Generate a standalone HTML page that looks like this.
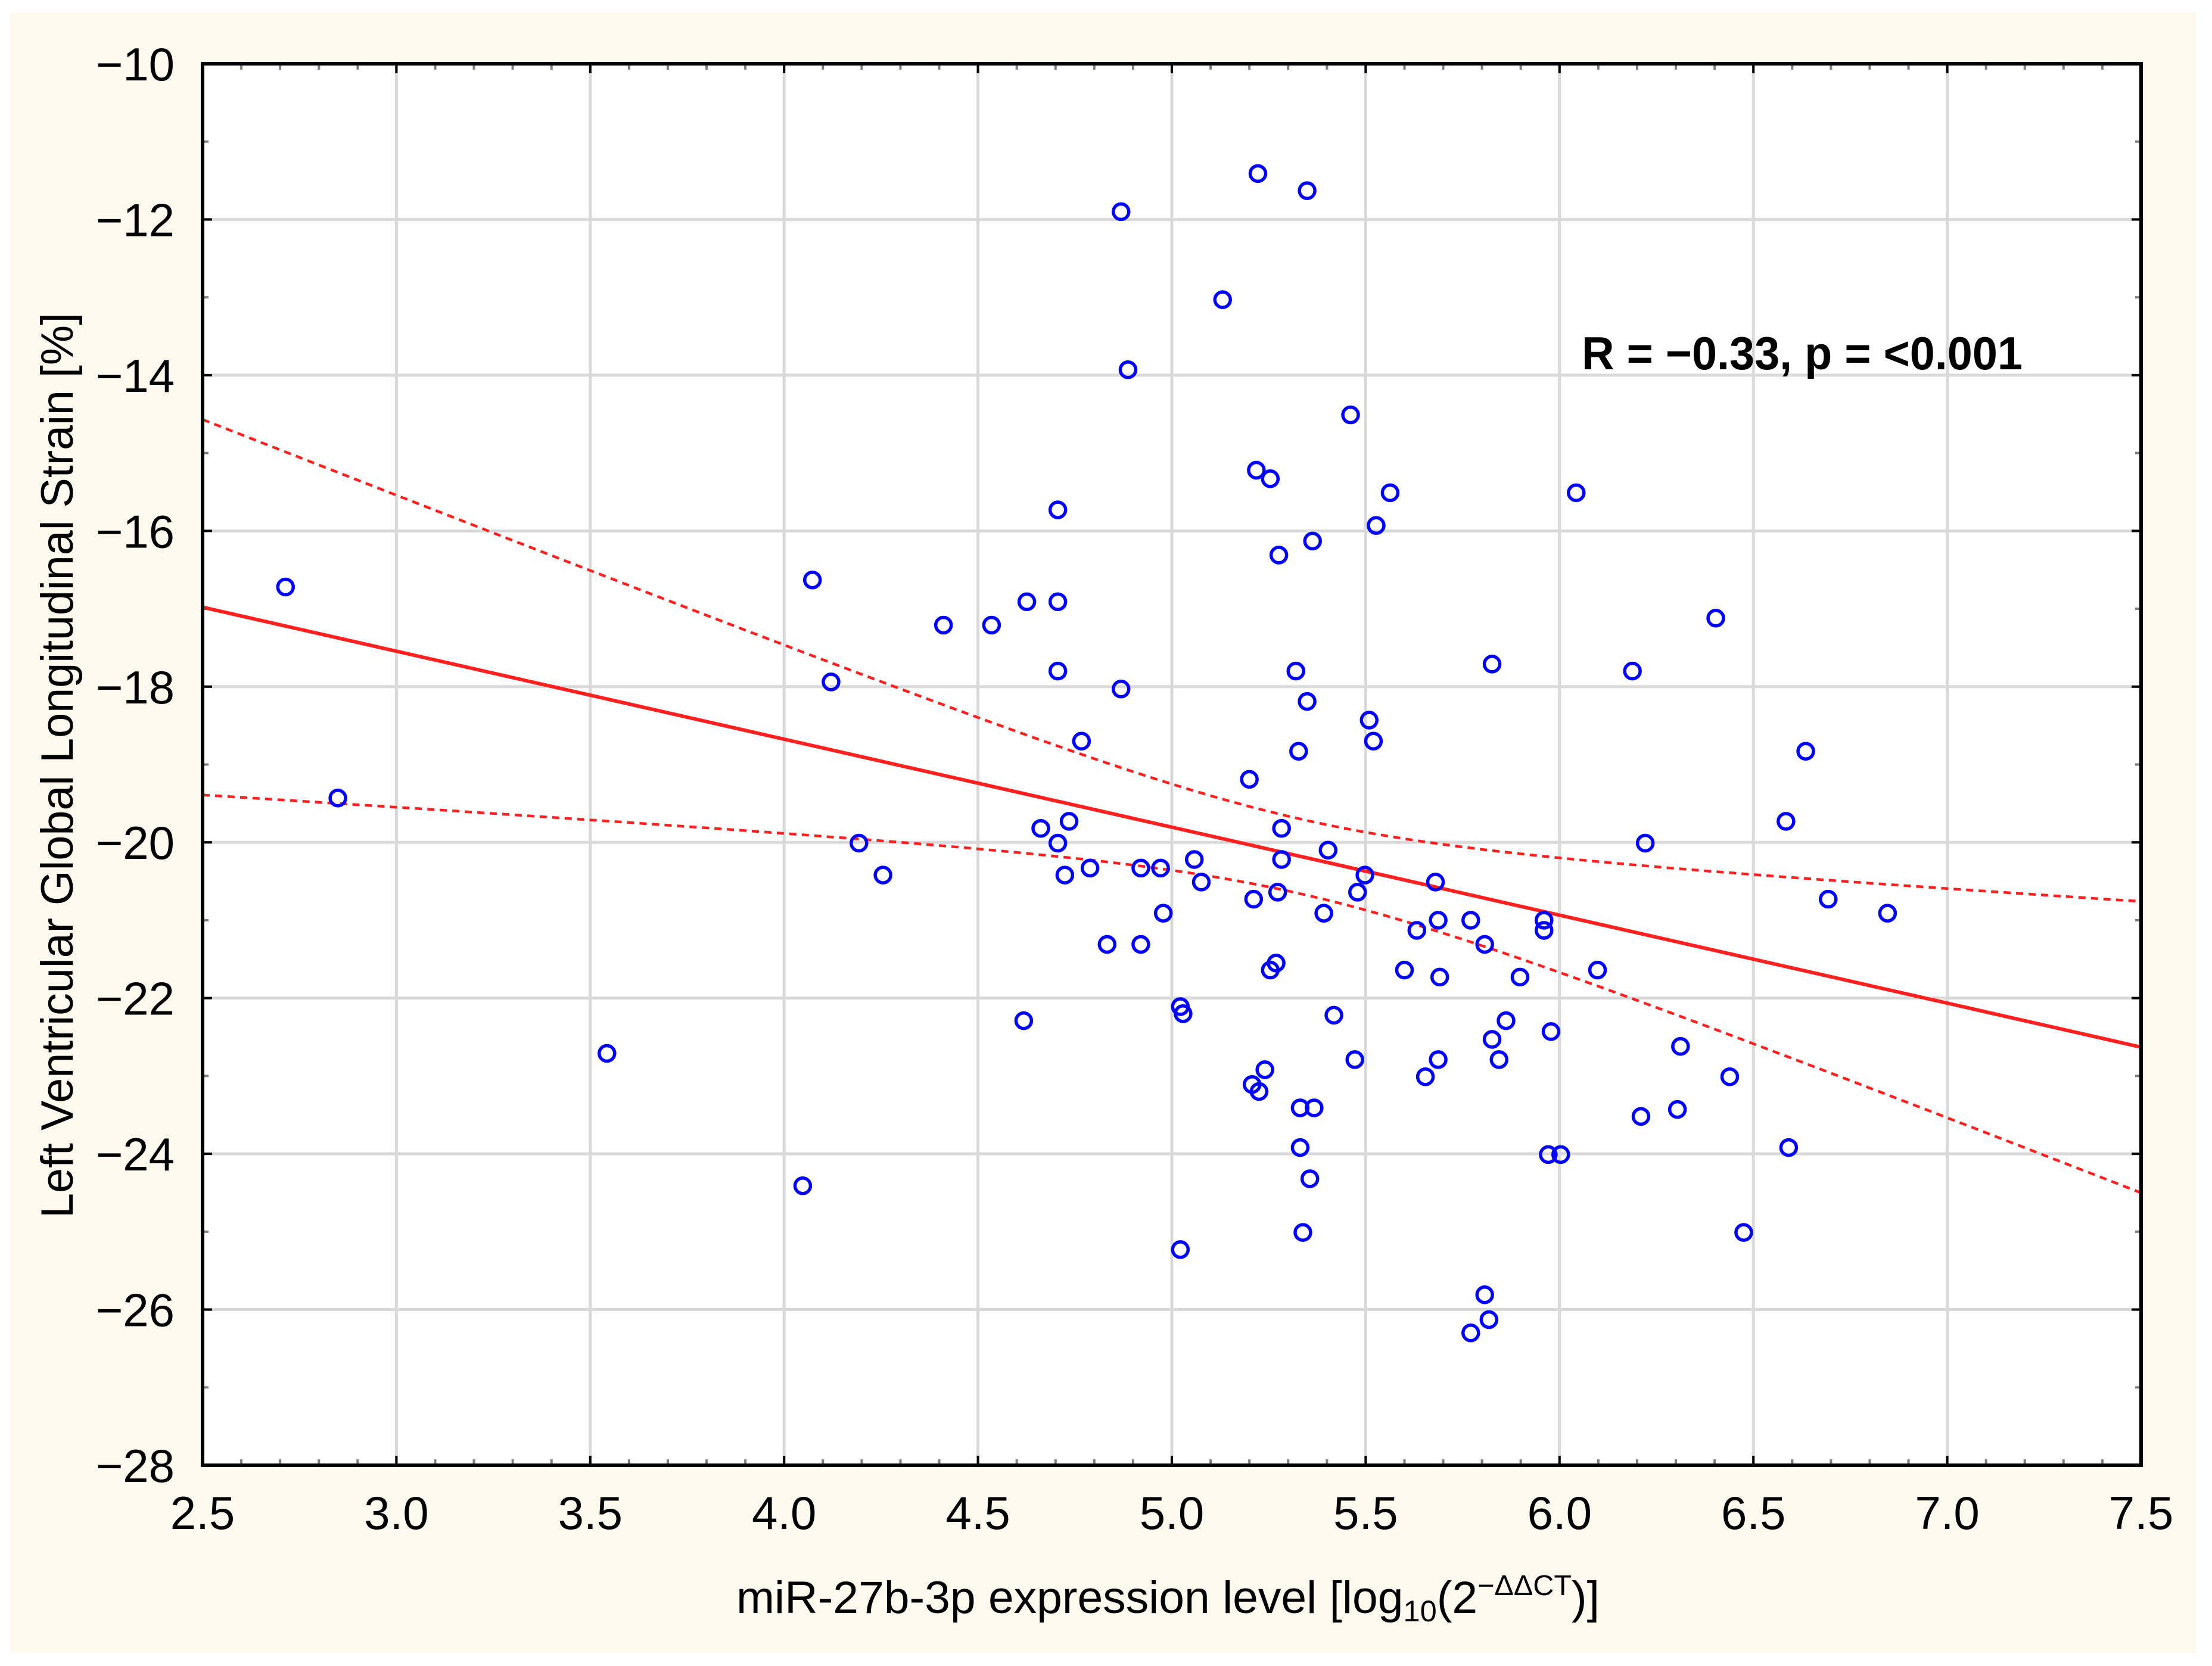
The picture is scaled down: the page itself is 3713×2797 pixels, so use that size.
<!DOCTYPE html>
<html><head><meta charset="utf-8">
<style>
html,body{margin:0;padding:0;background:#fff;}
svg{display:block;}
text{font-family:"Liberation Sans",sans-serif;}
</style></head>
<body>
<svg id="chart" width="3713" height="2797" viewBox="0 0 3713 2797" xmlns="http://www.w3.org/2000/svg">
<rect x="17" y="21" width="3669" height="2754" fill="#fef9ee"/>
<rect x="340" y="107" width="3254" height="2353" fill="#ffffff"/>
<g id="grid"></g>
<g id="ticks"></g>
<g id="lines"></g>
<g id="points"></g>
<rect x="340" y="107" width="3254" height="2353" fill="none" stroke="#000" stroke-width="6"/>
<g id="xlabels"></g>
<g id="ylabels"></g>
<text x="2655" y="620" font-size="78" font-weight="bold" textLength="740" lengthAdjust="spacingAndGlyphs" fill="#000">R = −0.33, p = &lt;0.001</text>
<text x="1236" y="2708" font-size="76" textLength="1449" lengthAdjust="spacingAndGlyphs" fill="#000">miR-27b-3p expression level [log<tspan font-size="50" dy="14">10</tspan><tspan dy="-14">(2</tspan><tspan font-size="48" dy="-30">−ΔΔCT</tspan><tspan dy="30">)]</tspan></text>
<text transform="translate(122,1285) rotate(-90)" text-anchor="middle" font-size="76" textLength="1520" lengthAdjust="spacingAndGlyphs" fill="#000">Left Ventricular Global Longitudinal Strain [%]</text>
</svg>
<script>
const xData = [2.714,2.849,3.543,4.048,4.073,4.121,4.193,4.255,4.411,4.535,4.618,4.626,4.662,4.706,4.706,4.706,4.706,4.724,4.735,4.767,4.789,4.833,4.869,4.869,4.887,4.920,4.920,4.971,4.978,5.022,5.029,5.022,5.058,5.076,5.131,5.200,5.211,5.222,5.218,5.207,5.225,5.240,5.254,5.254,5.269,5.276,5.273,5.283,5.283,5.349,5.320,5.327,5.331,5.367,5.331,5.338,5.349,5.356,5.363,5.392,5.403,5.418,5.461,5.472,5.479,5.498,5.509,5.520,5.527,5.563,5.600,5.632,5.654,5.680,5.687,5.691,5.687,5.771,5.771,5.807,5.807,5.818,5.826,5.826,5.844,5.862,5.898,5.960,5.960,5.978,5.971,6.003,6.043,6.098,6.188,6.210,6.221,6.304,6.312,6.403,6.439,6.475,6.584,6.591,6.635,6.693,6.846];
const yData = [-16.72,-19.43,-22.71,-24.41,-16.63,-17.94,-20.01,-20.42,-17.21,-17.21,-22.29,-16.91,-19.82,-15.73,-16.91,-17.80,-20.01,-20.42,-19.73,-18.70,-20.33,-21.31,-11.90,-18.03,-13.93,-20.33,-21.31,-20.33,-20.91,-22.11,-22.20,-25.23,-20.22,-20.51,-13.03,-19.19,-20.73,-11.41,-15.22,-23.11,-23.20,-22.92,-15.33,-21.64,-21.55,-16.31,-20.64,-19.82,-20.22,-11.63,-17.80,-18.83,-23.41,-23.41,-23.92,-25.01,-18.19,-24.32,-16.13,-20.91,-20.10,-22.22,-14.51,-22.79,-20.64,-20.42,-18.43,-18.70,-15.93,-15.51,-21.64,-21.13,-23.01,-20.51,-21.00,-21.73,-22.79,-21.00,-26.30,-21.31,-25.81,-26.13,-17.71,-22.53,-22.79,-22.29,-21.73,-21.00,-21.13,-22.43,-24.01,-24.01,-15.51,-21.64,-17.80,-23.52,-20.01,-23.43,-22.62,-17.12,-23.01,-25.01,-19.73,-23.92,-18.83,-20.73,-20.91];
const xTicks = [2.5,3.0,3.5,4.0,4.5,5.0,5.5,6.0,6.5,7.0,7.5];
const xTickLabels = ["2.5","3.0","3.5","4.0","4.5","5.0","5.5","6.0","6.5","7.0","7.5"];
const yTicks = [-10,-12,-14,-16,-18,-20,-22,-24,-26,-28];
const yTickLabels = ["−10","−12","−14","−16","−18","−20","−22","−24","−26","−28"];
const fitIntercept = [-14.155];
const fitSlope = [-1.13];
const bandCenterX = [5.332];
const bandC0 = [0.23];
const bandC1 = [0.696];

const NS="http://www.w3.org/2000/svg";
const X0=340,X1=3594,Y0=107,Y1=2460, xmin=2.5,xmax=7.5,ymin=-28,ymax=-10;
function sx(v){return X0+(v-xmin)/(xmax-xmin)*(X1-X0);}
function sy(v){return Y1-(v-ymin)/(ymax-ymin)*(Y1-Y0);}
function mk(tag,attrs,parent){const e=document.createElementNS(NS,tag);for(const k in attrs)e.setAttribute(k,attrs[k]);parent.appendChild(e);return e;}
const grid=document.getElementById('grid'),ticks=document.getElementById('ticks');
xTicks.forEach((t,i)=>{
  const g=mk('line',{x1:sx(t),x2:sx(t),y1:Y0,y2:Y1,stroke:'#d9d9d9','stroke-width':5},grid);
  
  
  const lb=mk('text',{x:sx(t),y:2567,'text-anchor':'middle','font-size':78,fill:'#000'},document.getElementById('xlabels'));
  lb.textContent=xTickLabels[i];
  
  
});
yTicks.forEach((t,i)=>{
  const g=mk('line',{x1:X0,x2:X1,y1:sy(t),y2:sy(t),stroke:'#d9d9d9','stroke-width':5},grid);
  
  
  const lb=mk('text',{x:293,y:sy(t)+28,'text-anchor':'end','font-size':78,fill:'#000'},document.getElementById('ylabels'));
  lb.textContent=yTickLabels[i];
  
  
});
for(let k=0;k<=50;k++){const v=xmin+k*0.1;const major=k%5===0;
  const len=major?16:10,c=major?'#000':'#808080';
  mk('line',{x1:sx(v),x2:sx(v),y1:Y1,y2:Y1-len,stroke:c,'stroke-width':4},ticks);
  mk('line',{x1:sx(v),x2:sx(v),y1:Y0,y2:Y0+len,stroke:c,'stroke-width':4},ticks);}
for(let v=-28;v<=-10;v+=1){const major=(v%2===0);const len=major?16:10,c=major?'#000':'#808080';
  mk('line',{x1:X0,x2:X0+len,y1:sy(v),y2:sy(v),stroke:c,'stroke-width':4},ticks);
  mk('line',{x1:X1,x2:X1-len,y1:sy(v),y2:sy(v),stroke:c,'stroke-width':4},ticks);}
const lines=document.getElementById('lines');
function fit(x){return fitIntercept[0]+fitSlope[0]*x;}
function hw(x){const d=x-bandCenterX[0];return Math.sqrt(bandC0[0]+bandC1[0]*d*d);}
const fl=mk('line',{x1:sx(xmin),y1:sy(fit(xmin)),x2:sx(xmax),y2:sy(fit(xmax)),stroke:'#ff2020','stroke-width':6},lines);


[1,-1].forEach(s=>{let d='';for(let k=0;k<=100;k++){const x=xmin+(xmax-xmin)*k/100;d+=(k?'L':'M')+sx(x).toFixed(1)+','+sy(fit(x)+s*hw(x)).toFixed(1);}
  const p=mk('path',{d:d,fill:'none',stroke:'#ff2020','stroke-width':4.5,'stroke-dasharray':'12,9'},lines);
  
  });
const pts=document.getElementById('points');
xData.forEach((x,i)=>{const c=mk('circle',{cx:sx(x),cy:sy(yData[i]),r:13,fill:'none',stroke:'#0000ff','stroke-width':5.5},pts);
  
  });
</script>
</body></html>
